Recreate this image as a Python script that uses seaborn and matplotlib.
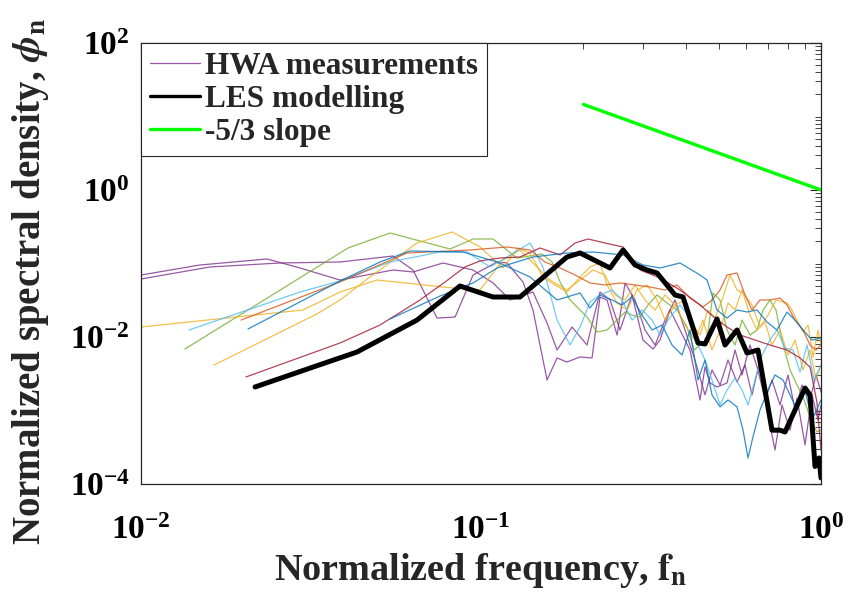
import numpy as np
import pandas as pd
import matplotlib
matplotlib.use("Agg")
import matplotlib.pyplot as plt
import seaborn as sns
from matplotlib.lines import Line2D
from matplotlib.ticker import LogLocator, NullFormatter, FixedLocator, LogFormatterSciNotation

# ---------------- data ----------------
# HWA spectra (normalized frequency, normalized spectral density)
hwa_p1_f = [0.0100, 0.01595, 0.02563, 0.03849, 0.05512, 0.0631, 0.07424, 0.08389, 0.09475, 0.1115,
            0.1193, 0.1329, 0.1422, 0.1564, 0.1674, 0.1790, 0.1956, 0.2121, 0.2239, 0.2348,
            0.2513, 0.2653, 0.2838, 0.3037, 0.3250, 0.3477, 0.3721, 0.3981, 0.4260, 0.4559,
            0.4780, 0.5047, 0.5328, 0.5663, 0.5978, 0.6268, 0.6617, 0.6985, 0.7323, 0.7679,
            0.8107, 0.8501, 0.8975, 0.9410, 0.9801, 1.0]
hwa_p1_phi = [0.0615, 0.0897, 0.1016, 0.1048, 0.1265, 0.0816, 0.0181, 0.0187, 0.0697, 0.1048,
              0.1016, 0.0560, 0.0233, 0.00260, 0.00518, 0.00457, 0.00535, 0.00518, 0.0350, 0.0319,
              0.01064, 0.0543, 0.0319, 0.01245, 0.00778, 0.0170, 0.0319, 0.01245, 0.00486, 0.00163,
              0.00356, 0.00222, 0.00486, 0.00244, 0.00416, 0.00163, 0.00486, 0.00087, 0.00029, 0.00119,
              0.00054, 0.00148, 0.00034, 0.00163, 0.00074, 0.00119]

hwa_p2_f = [0.0100, 0.01491, 0.0235, 0.02935, 0.03849, 0.05512, 0.0631, 0.07731, 0.09475, 0.1085,
            0.1218, 0.1422, 0.1564, 0.1674, 0.1853, 0.2050, 0.2239, 0.2396, 0.2564, 0.2781,
            0.2996, 0.3206, 0.3362, 0.3597, 0.3849, 0.4118, 0.4407, 0.4559, 0.4716, 0.4945,
            0.5292, 0.5587, 0.5858, 0.6184, 0.6528, 0.6845, 0.7176, 0.7576, 0.7998, 0.8387,
            0.8794, 0.9283, 0.9669, 1.0]
hwa_p2_phi = [0.0697, 0.0954, 0.1152, 0.0869, 0.0596, 0.0816, 0.0767, 0.1016, 0.0816, 0.0543,
              0.0319, 0.0409, 0.0155, 0.00665, 0.01367, 0.00778, 0.0409, 0.0319, 0.01245, 0.0373,
              0.0091, 0.00687, 0.0091, 0.0233, 0.01245, 0.00665, 0.00139, 0.00391, 0.00237, 0.00209,
              0.00237, 0.00665, 0.00304, 0.00778, 0.00356, 0.00139, 0.00260, 0.00119, 0.00304, 0.00102,
              0.00222, 0.00139, 0.00304, 0.00178]

hwa_g_f = [0.01347, 0.04063, 0.05401, 0.08109, 0.09475, 0.1085, 0.1276, 0.1511, 0.1618, 0.1708,
           0.1828, 0.2050, 0.2194, 0.2348, 0.2513, 0.2653, 0.2781, 0.2936, 0.3100, 0.3294,
           0.3525, 0.3772, 0.4036, 0.4231, 0.4407, 0.4621, 0.4813, 0.5047, 0.5292, 0.5587,
           0.5858, 0.6184, 0.6484, 0.6753, 0.7079, 0.7373, 0.7679, 0.8107, 0.8501, 0.8854,
           0.9410, 0.9735, 1.0]
hwa_g_phi = [0.00687, 0.1625, 0.2600, 0.1576, 0.2155, 0.2155, 0.1188, 0.1347, 0.1048, 0.0560,
             0.0319, 0.0187, 0.01169, 0.01245, 0.0170, 0.0219, 0.0199, 0.0187, 0.0273, 0.0373,
             0.0290, 0.0233, 0.01367, 0.00665, 0.00778, 0.0091, 0.0397, 0.0319, 0.01245, 0.00778,
             0.0170, 0.01064, 0.01245, 0.0233, 0.0319, 0.0233, 0.0091, 0.00356, 0.00222, 0.00153,
             0.00068, 0.00051, 0.00054]

hwa_y1_f = [0.0164, 0.03293, 0.03849, 0.04716, 0.06483, 0.0822, 0.09933, 0.1161, 0.1285, 0.1394,
            0.1521, 0.1651, 0.1790, 0.1956, 0.2092, 0.2239, 0.2348, 0.2513, 0.2689, 0.2877,
            0.3079, 0.3294, 0.3477, 0.3721, 0.3981, 0.4260, 0.4498, 0.4780, 0.5047, 0.5328,
            0.5587, 0.5858, 0.6184, 0.6484, 0.6845, 0.7176, 0.7576, 0.7998, 0.8387, 0.8854,
            0.9283, 0.9669, 1.0]
hwa_y1_phi = [0.00416, 0.0206, 0.0319, 0.0655, 0.1901, 0.2683, 0.1677, 0.0869, 0.1625, 0.1390,
              0.0655, 0.0510, 0.0409, 0.0655, 0.0897, 0.1016, 0.0510, 0.0290, 0.0233, 0.0436,
              0.0510, 0.0319, 0.0170, 0.0273, 0.01456, 0.0091, 0.0170, 0.00665, 0.01245, 0.0290,
              0.0233, 0.0436, 0.0199, 0.01245, 0.0160, 0.00778, 0.01245, 0.00569, 0.0091, 0.00356,
              0.00665, 0.00260, 0.00416]

hwa_y2_f = [0.0100, 0.02995, 0.03849, 0.04946, 0.08276, 0.09933, 0.1161, 0.1302, 0.1422, 0.1596,
            0.1790, 0.1956, 0.2135, 0.2316, 0.2479, 0.2653, 0.2838, 0.3037, 0.3250, 0.3477,
            0.3721, 0.3981, 0.4203, 0.4407, 0.4653, 0.4878, 0.5115, 0.5401, 0.5663, 0.5898,
            0.6268, 0.6617, 0.6985, 0.7373, 0.7944, 0.8218, 0.8854, 0.9159, 0.9474, 0.9801, 1.0]
hwa_y2_phi = [0.01367, 0.0233, 0.0409, 0.0596, 0.0464, 0.0436, 0.1116, 0.1527, 0.1016, 0.0596,
              0.0436, 0.0596, 0.0816, 0.0697, 0.0373, 0.0319, 0.0510, 0.0319, 0.0233, 0.0373,
              0.0273, 0.0319, 0.01456, 0.01064, 0.0233, 0.0181, 0.0319, 0.0697, 0.0436, 0.0397,
              0.0273, 0.01367, 0.0199, 0.0319, 0.0290, 0.0233, 0.01169, 0.01456, 0.00535, 0.01245, 0.00778]

hwa_lb_f = [0.01384, 0.02935, 0.03849, 0.05401, 0.07576, 0.09098, 0.1063, 0.1218, 0.1394, 0.1521,
            0.1674, 0.1828, 0.1956, 0.2092, 0.2239, 0.2429, 0.2599, 0.2781, 0.2976, 0.3185,
            0.3362, 0.3549, 0.3849, 0.4118, 0.4348, 0.4559, 0.4780, 0.5047, 0.5292, 0.5587,
            0.5858, 0.6101, 0.6397, 0.6707, 0.7079, 0.7423, 0.7837, 0.8274, 0.8676, 0.9097,
            0.9538, 1.0]
hwa_lb_phi = [0.01245, 0.0409, 0.0578, 0.1048, 0.1434, 0.1434, 0.0897, 0.1305, 0.1901, 0.0897,
              0.0170, 0.00778, 0.01367, 0.0299, 0.0373, 0.0436, 0.0319, 0.0170, 0.0233, 0.0170,
              0.01064, 0.0170, 0.0273, 0.0181, 0.00778, 0.00486, 0.00260, 0.00119, 0.00190, 0.00277,
              0.00190, 0.00119, 0.00260, 0.00569, 0.0091, 0.01245, 0.00708, 0.00665, 0.00334, 0.00778,
              0.00260, 0.00416]

hwa_o_f = [0.01969, 0.03849, 0.06061, 0.09284, 0.1193, 0.1394, 0.1542, 0.1708, 0.1891, 0.2092,
           0.2316, 0.2564, 0.2838, 0.3142, 0.3477, 0.3772, 0.4118, 0.4498, 0.4780, 0.5047,
           0.5292, 0.5663, 0.5978, 0.6268, 0.6617, 0.7079, 0.7576, 0.7944, 0.8387, 0.8854,
           0.9283, 0.9669, 1.0]
hwa_o_phi = [0.0170, 0.0560, 0.1390, 0.1527, 0.1677, 0.1527, 0.1048, 0.0869, 0.0697, 0.0543,
             0.0510, 0.0543, 0.0510, 0.0479, 0.0436, 0.0510, 0.0339, 0.0256, 0.0319, 0.0436,
             0.0697, 0.0743, 0.0373, 0.0233, 0.0319, 0.0319, 0.0339, 0.0273, 0.0170, 0.01245,
             0.00778, 0.00665, 0.00778]

hwa_r_f = [0.02036, 0.03849, 0.05047, 0.06616, 0.07837, 0.08975, 0.09933, 0.1138, 0.1302, 0.1491,
           0.1708, 0.1891, 0.2064, 0.2316, 0.2617, 0.2936, 0.3362, 0.3849, 0.4407, 0.4878,
           0.5292, 0.5779, 0.6397, 0.7079, 0.7944, 0.8676, 0.9283, 0.9735, 1.0]
hwa_r_phi = [0.00286, 0.00829, 0.01456, 0.0319, 0.0560, 0.0897, 0.1082, 0.1188, 0.1226, 0.1625,
             0.1305, 0.1901, 0.2155, 0.1901, 0.1677, 0.0816, 0.0635, 0.0436, 0.0273, 0.0181,
             0.01367, 0.01064, 0.0091, 0.00778, 0.00665, 0.00518, 0.00391, 0.00127, 0.00029]

hwa_b1_f = [0.02064, 0.03849, 0.05047, 0.0618, 0.0886, 0.1115, 0.1394, 0.1674, 0.1956, 0.2092,
            0.2239, 0.2429, 0.2599, 0.2781, 0.2976, 0.3185, 0.3408, 0.3646, 0.3902, 0.4118,
            0.4348, 0.4559, 0.4780, 0.5047, 0.5328, 0.5663, 0.5898, 0.6101, 0.6311, 0.6617,
            0.6985, 0.7323, 0.7731, 0.8107, 0.8501, 0.8975, 0.9410, 1.0]
hwa_b1_phi = [0.01285, 0.0578, 0.1048, 0.1480, 0.1434, 0.1048, 0.0655, 0.0319, 0.0397, 0.0248,
              0.0373, 0.0319, 0.0273, 0.0350, 0.0199, 0.01245, 0.01456, 0.00778, 0.00569, 0.01245,
              0.00260, 0.00486, 0.00163, 0.00112, 0.00139, 0.00112, 0.00054, 0.000226, 0.00044, 0.00102,
              0.00190, 0.00304, 0.00260, 0.00163, 0.00102, 0.00190, 0.00074, 0.00139]

hwa_b2_f = [0.05401, 0.07576, 0.09475, 0.1115, 0.1422, 0.1790, 0.2135, 0.2617, 0.2996, 0.3362,
            0.3849, 0.4407, 0.4621, 0.4945, 0.5292, 0.5663, 0.6060, 0.6484, 0.6938, 0.7423,
            0.7944, 0.8387, 0.8854, 0.9410, 1.0]
hwa_b2_phi = [0.0176, 0.0361, 0.0543, 0.0869, 0.1226, 0.1390, 0.1434, 0.1305, 0.0954, 0.0869,
              0.1016, 0.0697, 0.0596, 0.0233, 0.0181, 0.0233, 0.0219, 0.0233, 0.0160, 0.01245,
              0.0219, 0.0170, 0.01245, 0.0091, 0.00969]

# LES spectrum
les_f = [0.02165, 0.04318, 0.06483, 0.08676, 0.1085, 0.1302, 0.1790, 0.1956, 0.2396, 0.2617,
         0.2838, 0.3079, 0.3294, 0.3721, 0.3928, 0.4348, 0.4559, 0.4945, 0.5221, 0.5663,
         0.6060, 0.6528, 0.7176, 0.7576, 0.7837, 0.8975, 0.9283, 0.9604, 0.9868, 1.0]
les_phi = [0.00209, 0.00625, 0.0170, 0.0494, 0.0350, 0.0350, 0.1226, 0.1390, 0.0869, 0.1527,
           0.0954, 0.0816, 0.0743, 0.0373, 0.0350, 0.00829, 0.00804, 0.0176, 0.00778, 0.01245,
           0.00606, 0.00665, 0.00054, 0.00054, 0.00051, 0.00202, 0.00163, 0.000173, 0.000226, 0.000121]

# -5/3 reference slope
slope_f = [0.2, 1.0]
slope_phi = [0.2 ** (-5.0 / 3.0), 1.0]

legend_labels = ["HWA measurements", "LES modelling", "-5/3 slope"]

# ---------------- styling ----------------
sns.set_style("white")
plt.rcParams["font.family"] = ["Liberation Serif", "DejaVu Serif"]
plt.rcParams["font.weight"] = "bold"
plt.rcParams["mathtext.fontset"] = "stix"
plt.rcParams["axes.labelweight"] = "bold"
plt.rcParams["axes.unicode_minus"] = False

matlab = {"blue": "#0072BD", "orange": "#D95319", "yellow": "#EDB120", "purple": "#7E2F8E",
          "green": "#77AC30", "lightblue": "#4DBEEE", "red": "#A2142F"}

runs = [("P1", hwa_p1_f, hwa_p1_phi, matlab["purple"]),
        ("P2", hwa_p2_f, hwa_p2_phi, matlab["purple"]),
        ("G", hwa_g_f, hwa_g_phi, matlab["green"]),
        ("Y1", hwa_y1_f, hwa_y1_phi, matlab["yellow"]),
        ("Y2", hwa_y2_f, hwa_y2_phi, matlab["yellow"]),
        ("LB", hwa_lb_f, hwa_lb_phi, matlab["lightblue"]),
        ("O", hwa_o_f, hwa_o_phi, matlab["orange"]),
        ("R", hwa_r_f, hwa_r_phi, matlab["red"]),
        ("B1", hwa_b1_f, hwa_b1_phi, matlab["blue"]),
        ("B2", hwa_b2_f, hwa_b2_phi, matlab["blue"])]

frames = []
for name, fv, pv, _ in runs:
    frames.append(pd.DataFrame({"f": fv, "phi": pv, "run": name}))
hwa = pd.concat(frames, ignore_index=True)
palette = {name: c for name, _, _, c in runs}
order = [name for name, _, _, _ in runs]

les = pd.DataFrame({"f": les_f, "phi": les_phi})
slope = pd.DataFrame({"f": slope_f, "phi": slope_phi})

fig = plt.figure(figsize=(8.5, 6.06), dpi=100)
ax = fig.add_axes([141 / 850, 1 - 484 / 606, 680 / 850, 441 / 606])

sns.lineplot(data=hwa, x="f", y="phi", hue="run", hue_order=order, palette=palette,
             sort=False, estimator=None, legend=False, linewidth=0.9, alpha=0.8, ax=ax)
sns.lineplot(data=les, x="f", y="phi", sort=False, estimator=None, color="black",
             linewidth=3.6, ax=ax)
sns.lineplot(data=slope, x="f", y="phi", sort=False, estimator=None, color="#00FF00",
             linewidth=2.4, ax=ax)

ax.set_xscale("log")
ax.set_yscale("log")
ax.set_xlim(1e-2, 1)
ax.set_ylim(1e-4, 1e2)

ax.xaxis.set_major_locator(FixedLocator([1e-2, 1e-1, 1]))
ax.yaxis.set_major_locator(FixedLocator([1e-4, 1e-2, 1, 1e2]))
ax.xaxis.set_major_formatter(LogFormatterSciNotation())
ax.yaxis.set_major_formatter(LogFormatterSciNotation())
ax.xaxis.set_minor_locator(LogLocator(base=10, subs=np.arange(1, 10), numticks=100))
ax.yaxis.set_minor_locator(LogLocator(base=10, subs=np.arange(1, 10), numticks=100))
ax.xaxis.set_minor_formatter(NullFormatter())
ax.yaxis.set_minor_formatter(NullFormatter())

ax.tick_params(which="both", direction="in", top=True, right=True, colors="#262626",
               labelcolor="black", labelsize=24)
ax.tick_params(which="major", length=8, width=0.8)
ax.tick_params(which="minor", length=4.5, width=0.6)
ax.tick_params(axis="x", which="major", pad=22)
ax.tick_params(axis="y", which="major", pad=8)
for s in ax.spines.values():
    s.set_linewidth(0.9)
    s.set_color("#262626")

ax.set_xlabel(r"Normalized frequency, $\mathbf{f}_\mathbf{n}$", fontsize=27.5, fontweight="bold", labelpad=4)
ax.set_ylabel(r"Normalized spectral density, $\phi_\mathbf{n}$", fontsize=28, fontweight="bold")
ax.yaxis.set_label_coords(-0.132, 0.46)

handles = [Line2D([], [], color=matlab["purple"], lw=0.9, alpha=0.8),
           Line2D([], [], color="black", lw=2.4),
           Line2D([], [], color="#00FF00", lw=2.4)]
leg = ax.legend(handles, legend_labels, loc="upper left", bbox_to_anchor=(0, 1),
                borderaxespad=0, frameon=True, fancybox=False,
                handlelength=1.6, handletextpad=0.15, labelspacing=0.12, borderpad=0.3,
                prop={"weight": "bold", "size": 22.5})
leg.get_frame().set_edgecolor("#262626")
leg.get_frame().set_linewidth(0.8)
leg.get_frame().set_alpha(1)

fig.savefig("out.png", dpi=100)
